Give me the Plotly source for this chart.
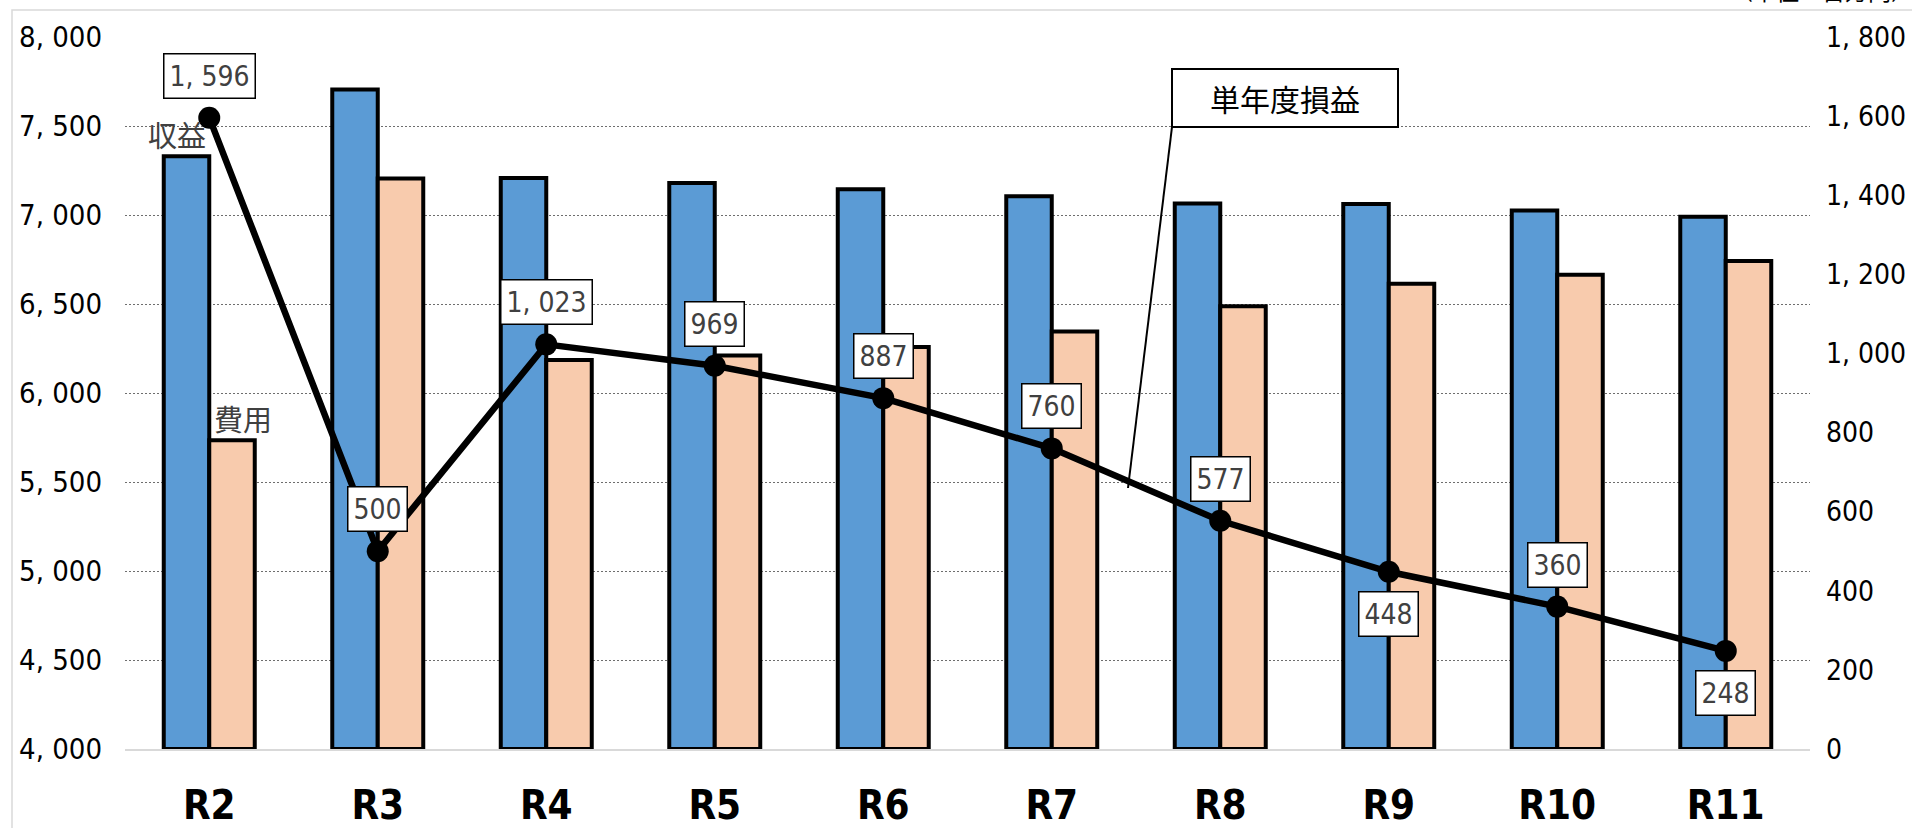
import plotly.graph_objects as go

# Fiscal years (Reiwa era)
years = ["R2", "R3", "R4", "R5", "R6", "R7", "R8", "R9", "R10", "R11"]

# Revenue and expense, million yen (left axis)
revenue = [7330, 7705, 7208, 7180, 7145, 7105, 7065, 7062, 7025, 6990]
expense = [5734, 7205, 6185, 6211, 6258, 6345, 6488, 6614, 6665, 6742]

# Single-year profit, million yen (right axis)
profit = [1596, 500, 1023, 969, 887, 760, 577, 448, 360, 248]

# Data label placement for the profit line: +1 above the point, -1 below
label_side = [1, 1, 1, 1, 1, 1, 1, -1, 1, -1]

# Axis ticks
left_ticks = [4000, 4500, 5000, 5500, 6000, 6500, 7000, 7500, 8000]
right_ticks = [0, 200, 400, 600, 800, 1000, 1200, 1400, 1600, 1800]

Y_MIN, Y_MAX = 4000, 8000
Y2_MIN, Y2_MAX = 0, 1800


def jp_number(v):
    return f"{v:,}".replace(",", ", ")


NUM_FONT = "DejaVu Sans Condensed, DejaVu Sans, sans-serif"
CJK_FONT = "Noto Sans CJK JP, Noto Sans, sans-serif"

W, H = 1912, 828
ML, MR, MT, MB = 125, 102, 37, 79
PW, PH = W - ML - MR, H - MT - MB


def px_x(px):
    return (px - ML) / PW


def px_y(py):
    return (H - MB - py) / PH


fig = go.Figure()

fig.add_trace(go.Bar(
    x=years, y=[v - Y_MIN for v in revenue], base=Y_MIN, name="収益",
    marker=dict(color="#5B9BD5", line=dict(color="#000000", width=4)),
    yaxis="y",
))
fig.add_trace(go.Bar(
    x=years, y=[v - Y_MIN for v in expense], base=Y_MIN, name="費用",
    marker=dict(color="#F8CBAD", line=dict(color="#000000", width=4)),
    yaxis="y",
))
fig.add_trace(go.Scatter(
    x=years, y=profit, name="単年度損益", mode="lines+markers",
    line=dict(color="#000000", width=6.5),
    marker=dict(color="#000000", size=22),
    yaxis="y2",
))

annotations = []
for yr, v, side in zip(years, profit, label_side):
    annotations.append(dict(
        x=yr, y=v, xref="x", yref="y2", text=jp_number(v), showarrow=False,
        yshift=42 * side, font=dict(family=NUM_FONT, size=28, color="#404040"),
        bgcolor="#FFFFFF", bordercolor="#000000", borderwidth=1.5, borderpad=5,
    ))

# Series names written beside the first bars
annotations.append(dict(
    x=px_x(177), y=px_y(134), xref="paper", yref="paper", text="収益",
    xanchor="center", yanchor="middle",
    showarrow=False, font=dict(family=CJK_FONT, size=29, color="#404040"),
))
annotations.append(dict(
    x=px_x(243), y=px_y(418), xref="paper", yref="paper", text="費用",
    xanchor="center", yanchor="middle",
    showarrow=False, font=dict(family=CJK_FONT, size=29, color="#404040"),
))

# Callout for the profit line
annotations.append(dict(
    x=px_x(1285), y=px_y(98), xref="paper", yref="paper", text="単年度損益",
    xanchor="center", yanchor="middle",
    showarrow=False, font=dict(family=CJK_FONT, size=30, color="#000000"),
    bgcolor="#FFFFFF", bordercolor="#000000", borderwidth=2, borderpad=3,
    width=218, height=50,
))

# Unit note
annotations.append(dict(
    x=px_x(1916), y=px_y(9), xref="paper", yref="paper", text="（単位：百万円）",
    xanchor="right", yanchor="bottom", showarrow=False,
    font=dict(family=CJK_FONT, size=23, color="#000000"),
))

shapes = [
    # chart frame
    dict(type="rect", xref="paper", yref="paper",
         x0=px_x(12), y0=px_y(900), x1=px_x(2000), y1=px_y(10),
         line=dict(color="#D9D9D9", width=1.5), layer="below"),
    # callout leader line
    dict(type="line", xref="paper", yref="paper",
         x0=px_x(1172), y0=px_y(127), x1=px_x(1128), y1=px_y(488),
         line=dict(color="#000000", width=2)),
]

fig.update_layout(
    width=W, height=H, autosize=False,
    margin=dict(l=ML, r=MR, t=MT, b=MB, pad=0),
    paper_bgcolor="#FFFFFF", plot_bgcolor="#FFFFFF",
    showlegend=False,
    barmode="group", bargap=0.46, bargroupgap=0,
    xaxis=dict(
        type="category", range=[-0.5, len(years) - 0.5],
        showgrid=False, ticks="", automargin=False,
        showline=True, linecolor="#D9D9D9", linewidth=2,
        tickfont=dict(family=NUM_FONT, size=40, color="#000000", weight="bold"),
        ticklabelstandoff=20,
    ),
    yaxis=dict(
        range=[Y_MIN, Y_MAX], tickvals=left_ticks,
        ticktext=[jp_number(t) for t in left_ticks],
        showgrid=True, gridcolor="#6E6E6E", gridwidth=1, griddash="2px,2px",
        zeroline=False, ticks="", automargin=False,
        tickfont=dict(family=NUM_FONT, size=29, color="#000000"),
        ticklabelstandoff=22,
    ),
    yaxis2=dict(
        range=[Y2_MIN, Y2_MAX], tickvals=right_ticks,
        ticktext=[jp_number(t) for t in right_ticks],
        overlaying="y", side="right", showgrid=False, zeroline=False, ticks="",
        automargin=False,
        tickfont=dict(family=NUM_FONT, size=28, color="#000000"),
        ticklabelstandoff=15,
    ),
    annotations=annotations,
    shapes=shapes,
)

fig.write_html("out.html")
